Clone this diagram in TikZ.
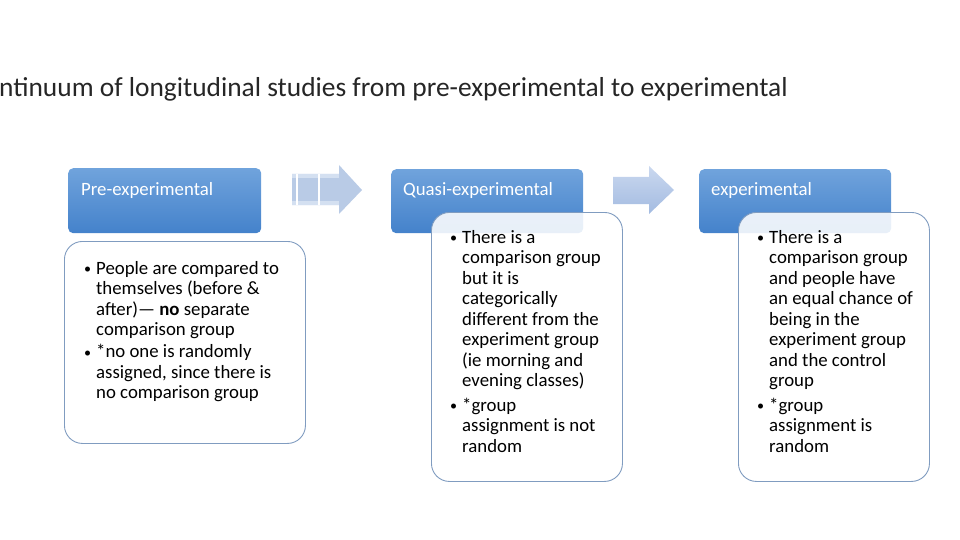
\documentclass[tikz,border=0pt]{standalone}
\usepackage{fontspec}
\setmainfont{Carlito}
\definecolor{headtop}{RGB}{112,163,220}
\definecolor{headbottom}{RGB}{68,130,203}
\definecolor{bodyline}{RGB}{128,156,192}
\definecolor{arrowlight}{RGB}{185,203,230}
\definecolor{arrowband}{RGB}{212,224,241}
\definecolor{arrowtop}{RGB}{202,216,239}
\definecolor{arrowbottom}{RGB}{163,187,225}
\newcommand{\bul}{\makebox[12pt][l]{\raisebox{0.5pt}{\scalebox{0.75}{\textbullet}}}}

\begin{document}
\begin{tikzpicture}[
    x=1pt, y=-1pt,
    headbox/.style={rounded corners=5pt, top color=headtop, bottom color=headbottom, minimum width=192pt, minimum height=64pt, anchor=north west, inner sep=0pt},
    headtext/.style={text=white, font=\fontsize{18.8}{20.5}\selectfont, anchor=base west, inner sep=0pt},
    bodybox/.style={draw=bodyline, line width=0.9pt, rounded corners=18pt, fill=white, fill opacity=0.88, anchor=north west, inner sep=0pt},
    bodytext/.style={font=\fontsize{18.8}{20.5}\selectfont, anchor=base west, inner sep=0pt}
]
    \useasboundingbox (0,0) rectangle (960,540);

    % Title (cut at the left edge)
    \node[anchor=base west, inner sep=0pt, text=black!85, font=\fontsize{27.4}{32}\selectfont] (title) at (-1,97) {ntinuum of longitudinal studies from pre-experimental to experimental};

    % Headers
    \node[headbox, minimum width=193pt, minimum height=65pt] (prehead) at (68,168) {};
    \node[headbox] (quasihead) at (391,169) {};
    \node[headbox] (exphead) at (699,169) {};
    \node[headtext] (pretext) at (81,195) {Pre-experimental};
    \node[headtext] (quasitext) at (403,196) {Quasi-experimental};
    \node[headtext] (exptext) at (711,196) {experimental};

    % Arrows
    \fill[arrowlight] (292,174) -- (339,174) -- (339,165) -- (362,190) -- (339,214) -- (339,205) -- (292,205) -- cycle;
    \fill[arrowband] (292,174) rectangle (339,178);
    \fill[arrowband] (292,201) rectangle (339,205);
    \draw[white, line width=1.2pt] (297,174) -- (297,205) (319,174) -- (319,205);
    \shade[top color=arrowtop, bottom color=arrowbottom] (613,177) -- (649,177) -- (649,166) -- (674,190) -- (649,214) -- (649,204) -- (613,204) -- cycle;

    % Bodies
    \node[bodybox, minimum width=241pt, minimum height=202pt] (prebody) at (64,241) {};
    \node[bodybox, minimum width=191pt, minimum height=269pt] (quasibody) at (431,212) {};
    \node[bodybox, minimum width=191pt, minimum height=269pt] (expbody) at (738,212) {};

    \node[bodytext] (prelist) at (84,274) {\begin{tabular}[t]{@{}l@{}l@{}}
        \bul & People are compared to\\
        & themselves (before \&\\
        & after)— \textbf{no} separate\\
        & comparison group\\[1.5pt]
        \bul & *no one is randomly\\
        & assigned, since there is\\
        & no comparison group
    \end{tabular}};
    \node[bodytext] (quasilist) at (450,243) {\begin{tabular}[t]{@{}l@{}l@{}}
        \bul & There is a\\
        & comparison group\\
        & but it is\\
        & categorically\\
        & different from the\\
        & experiment group\\
        & (ie morning and\\
        & evening classes)\\[4pt]
        \bul & *group\\
        & assignment is not\\
        & random
    \end{tabular}};
    \node[bodytext] (explist) at (757,243) {\begin{tabular}[t]{@{}l@{}l@{}}
        \bul & There is a\\
        & comparison group\\
        & and people have\\
        & an equal chance of\\
        & being in the\\
        & experiment group\\
        & and the control\\
        & group\\[4pt]
        \bul & *group\\
        & assignment is\\
        & random
    \end{tabular}};
\end{tikzpicture}
\end{document}
